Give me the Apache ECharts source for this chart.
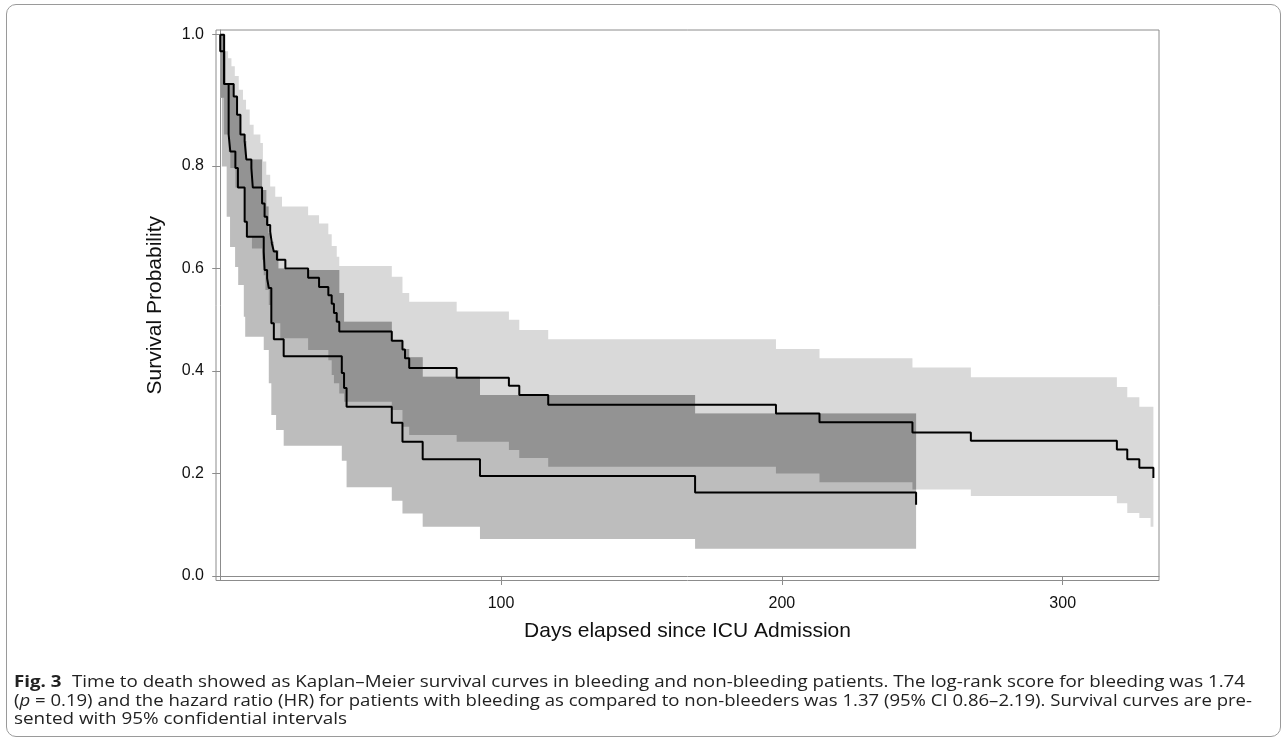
<!DOCTYPE html>
<html>
<head>
<meta charset="utf-8">
<script src="https://cdn.jsdelivr.net/npm/echarts@6/dist/echarts.min.js"></script>
<style>
html,body{margin:0;padding:0;background:#fff;}
#wrap{position:relative;width:1284px;height:738px;overflow:hidden;background:#fff;}
#chart{position:absolute;left:0;top:0;width:1284px;height:738px;}
#frame{position:absolute;left:6px;top:4px;width:1275px;height:733px;border:1px solid #9a9a9a;border-radius:10px;box-sizing:border-box;pointer-events:none;}
#cap{position:absolute;left:0;top:0;pointer-events:none;}
</style>
</head>
<body>
<div id="wrap">
  <div id="chart"></div>
  <div id="frame"></div>
  <svg id="cap" width="1284" height="738" xmlns="http://www.w3.org/2000/svg">
    <g font-family="'Open Sans','Noto Sans',sans-serif" font-size="16" fill="#222">
      <text x="14" y="687" textLength="1231" lengthAdjust="spacingAndGlyphs"><tspan font-weight="bold">Fig. 3</tspan><tspan dx="9">Time to death showed as Kaplan–Meier survival curves in bleeding and non-bleeding patients. The log-rank score for bleeding was 1.74</tspan></text>
      <text x="14" y="705.5" textLength="1238" lengthAdjust="spacingAndGlyphs">(<tspan font-style="italic">p</tspan> = 0.19) and the hazard ratio (HR) for patients with bleeding as compared to non-bleeders was 1.37 (95% CI 0.86–2.19). Survival curves are pre-</text>
      <text x="14" y="724" textLength="333" lengthAdjust="spacingAndGlyphs">sented with 95% confidential intervals</text>
    </g>
  </svg>
</div>
<script>
// ---- data: [day, survival probability] ----
const bleedingCurve = [[0,1.000],[0,0.975],[1.4,0.925],[3.0,0.848],[3.6,0.822],[5.4,0.796],[6.3,0.758],[8.7,0.691],[9.5,0.662],[15.5,0.633],[15.8,0.597],[16.7,0.581],[17.3,0.562],[18.2,0.493],[19.1,0.462],[22.6,0.429],[43.3,0.396],[44.1,0.367],[45.0,0.330],[61.1,0.299],[64.9,0.262],[72.1,0.228],[92.5,0.195],[169.1,0.163],[247.8,0.139]];
const notBleedingCurve = [[0,1.000],[1.4,0.925],[4.8,0.906],[6.0,0.878],[7.2,0.848],[8.7,0.838],[9.3,0.810],[11.1,0.796],[11.6,0.758],[14.9,0.727],[15.8,0.701],[16.7,0.685],[17.8,0.672],[18.4,0.649],[19.1,0.633],[20.2,0.617],[23.2,0.600],[31.3,0.582],[35.2,0.564],[38.5,0.548],[39.7,0.531],[40.5,0.513],[41.5,0.496],[42.4,0.477],[61.1,0.459],[64.9,0.442],[65.8,0.425],[67.3,0.406],[84.2,0.387],[102.8,0.371],[106.5,0.353],[116.8,0.334],[197.9,0.317],[213.4,0.300],[246.5,0.280],[267.3,0.264],[319.3,0.247],[323.0,0.228],[327.3,0.211],[332.3,0.191]];

// 95% CI bounds: [day from which the bound holds, value]
const notBleedingUpper = [[0,1.000],[1.6,0.975],[2.8,0.964],[4.0,0.952],[5.2,0.937],[6.6,0.916],[8.1,0.901],[9.2,0.886],[10.5,0.863],[11.9,0.848],[14.3,0.835],[15.2,0.807],[16.4,0.783],[17.8,0.760],[19.6,0.740],[22.0,0.721],[31.3,0.704],[35.2,0.688],[38.5,0.667],[39.7,0.644],[41.5,0.623],[42.4,0.605],[61.1,0.584],[64.9,0.552],[67.3,0.535],[84.2,0.516],[102.8,0.500],[106.5,0.480],[116.8,0.462],[197.9,0.443],[213.4,0.425],[246.5,0.407],[267.3,0.388],[319.3,0.369],[323.0,0.349],[327.3,0.330]];
const notBleedingLower = [[0,0.904],[1.4,0.848],[3.0,0.822],[3.6,0.796],[5.4,0.758],[8.7,0.691],[9.5,0.662],[11.3,0.639],[14.9,0.617],[15.5,0.587],[16.1,0.558],[17.3,0.529],[18.2,0.493],[21.4,0.464],[31.3,0.441],[38.5,0.421],[39.7,0.392],[40.5,0.376],[42.4,0.356],[44.1,0.340],[61.1,0.324],[64.9,0.291],[67.3,0.275],[84.2,0.262],[102.8,0.246],[106.5,0.230],[116.8,0.213],[197.9,0.200],[213.4,0.183],[246.5,0.169],[267.3,0.156],[319.3,0.142],[323.0,0.123],[327.3,0.113],[331.3,0.096]];
const bleedingUpper = [[0,1.000],[1.4,0.925],[4.8,0.906],[6.0,0.878],[7.2,0.848],[8.7,0.838],[9.3,0.810],[14.9,0.753],[16.4,0.721],[17.2,0.669],[17.8,0.652],[19.0,0.636],[20.7,0.600],[23.2,0.597],[42.4,0.552],[44.1,0.496],[61.1,0.460],[64.9,0.443],[67.3,0.427],[72.1,0.389],[92.5,0.353],[169.1,0.317]];
const bleedingLower = [[0,0.904],[0.6,0.799],[2.3,0.701],[3.5,0.642],[5.3,0.603],[6.4,0.568],[8.4,0.506],[8.9,0.467],[15.5,0.441],[17.3,0.376],[18.2,0.314],[19.9,0.285],[22.6,0.254],[43.3,0.225],[45.0,0.173],[61.1,0.147],[64.9,0.122],[72.1,0.096],[92.5,0.072],[169.1,0.053]];
const bleedingEnd = 247.8;
const notBleedingEnd = 332.3;

const xTicks = [100, 200, 300];
const yTicks = [0.0, 0.2, 0.4, 0.6, 0.8, 1.0];
const curveLabels = ['Not Bleeding', 'Bleeding'];
const curveLabelDay = [296.2, 227.5];
const curveLabelSurv = [0.293, 0.133];

// The reference's vertical scale is stretched between 0.8 and 1.0
function toAxis(p) { return p <= 0.8 ? p : 0.8 + (p - 0.8) * 1.281; }
const yTickAxis = yTicks.map(toAxis);

function valAt(arr, d) {
  let v = arr[0][1];
  for (const [t, y] of arr) { if (t <= d + 1e-9) v = y; else break; }
  return v;
}
function stepPath(arr, end) {
  const pts = [];
  for (let i = 0; i < arr.length; i++) {
    const d0 = arr[i][0];
    const d1 = i + 1 < arr.length ? arr[i + 1][0] : end;
    pts.push([d0, arr[i][1]], [d1, arr[i][1]]);
  }
  return pts;
}
function bandPoints(upper, lower, end) {
  const up = stepPath(upper, end);
  const lo = stepPath(lower, end).reverse();
  return up.concat(lo);
}
function overlapPoints() {
  const end = Math.min(bleedingEnd, notBleedingEnd);
  const set = new Set();
  [bleedingUpper, bleedingLower, notBleedingUpper, notBleedingLower].forEach(a => a.forEach(p => { if (p[0] < end) set.add(p[0]); }));
  const bps = Array.from(set).sort((a, b) => a - b);
  const up = [], lo = [];
  for (let i = 0; i < bps.length; i++) {
    const d0 = bps[i], d1 = i + 1 < bps.length ? bps[i + 1] : end;
    const l = Math.max(valAt(bleedingLower, d0), valAt(notBleedingLower, d0));
    const h = Math.max(l, Math.min(valAt(bleedingUpper, d0), valAt(notBleedingUpper, d0)));
    up.push([d0, h], [d1, h]);
    lo.push([d0, l], [d1, l]);
  }
  return up.concat(lo.reverse());
}

const bands = [
  { pts: bandPoints(notBleedingUpper, notBleedingLower, notBleedingEnd), fill: '#d9d9d9' },
  { pts: bandPoints(bleedingUpper, bleedingLower, bleedingEnd), fill: '#bdbdbd' },
  { pts: overlapPoints(), fill: '#939393' }
];

const chart = echarts.init(document.getElementById('chart'), null, { renderer: 'canvas' });
const axisGray = '#8c8c8c';
const textFont = "'Liberation Sans', Arial, Helvetica, sans-serif";

chart.setOption({
  animation: false,
  backgroundColor: '#fff',
  grid: { left: 216, right: 125, top: 30, bottom: 157.5, show: true, borderColor: axisGray, borderWidth: 1, containLabel: false },
  xAxis: {
    type: 'value', min: -1.5, max: 334.3,
    name: 'Days elapsed since ICU Admission', nameLocation: 'middle', nameGap: 40,
    nameTextStyle: { fontSize: 21, color: '#111', fontFamily: textFont },
    axisLine: { show: true, lineStyle: { color: axisGray, width: 1 } },
    axisTick: { show: true, length: 9, customValues: xTicks, lineStyle: { color: axisGray } },
    axisLabel: { customValues: xTicks, margin: 15, fontSize: 16, color: '#111', fontFamily: textFont },
    splitLine: { show: false }
  },
  yAxis: {
    type: 'value', min: -0.0088, max: 1.0654,
    name: 'Survival Probability', nameLocation: 'middle', nameGap: 50, nameRotate: 90,
    nameTextStyle: { fontSize: 21, color: '#111', fontFamily: textFont },
    axisLine: { show: true, lineStyle: { color: axisGray, width: 1 } },
    axisTick: { show: true, length: 8, customValues: yTickAxis, lineStyle: { color: axisGray } },
    axisLabel: {
      customValues: yTickAxis, margin: 12, fontSize: 16, color: '#111', fontFamily: textFont,
      formatter: function (v) {
        let best = 0;
        yTickAxis.forEach((t, i) => { if (Math.abs(t - v) < Math.abs(yTickAxis[best] - v)) best = i; });
        return yTicks[best].toFixed(1);
      }
    },
    splitLine: { show: false }
  },
  series: [
    {
      type: 'custom', silent: true, z: 1,
      data: bands.map((b, i) => [0, 0]),
      renderItem: function (params, api) {
        const b = bands[params.dataIndex];
        const pts = b.pts.map(p => api.coord([p[0], toAxis(p[1])]));
        return { type: 'polygon', shape: { points: pts }, style: { fill: b.fill, stroke: null } };
      }
    },
    {
      name: 'Not Bleeding', type: 'line', step: 'end', symbol: 'none', silent: true, z: 3,
      data: notBleedingCurve.map(p => [p[0], toAxis(p[1])]),
      lineStyle: { color: '#000', width: 2 }
    },
    {
      name: 'Bleeding', type: 'line', step: 'end', symbol: 'none', silent: true, z: 3,
      data: bleedingCurve.map(p => [p[0], toAxis(p[1])]),
      lineStyle: { color: '#000', width: 2 }
    },
    {
      type: 'scatter', silent: true, z: 4, symbolSize: 1,
      itemStyle: { opacity: 0 },
      data: curveLabels.map((n, i) => ({ name: n, value: [curveLabelDay[i], toAxis(curveLabelSurv[i])] })),
      label: { show: true, position: 'inside', formatter: '{b}', fontSize: 16, color: '#111', fontFamily: textFont }
    }
  ]
});
</script>
</body>
</html>
